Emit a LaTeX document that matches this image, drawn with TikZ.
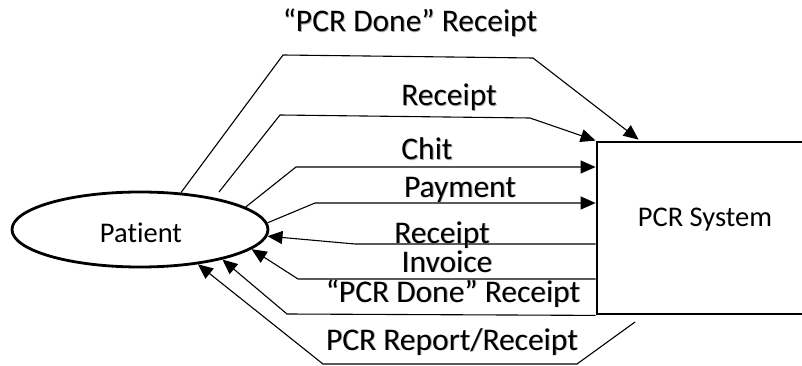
\documentclass[tikz,border=0pt]{standalone}
\usepackage{fontspec}
\setmainfont{Carlito}[Ligatures=NoCommon]
\usetikzlibrary{arrows.meta,shapes.geometric,calc}

% text with a faint drop shadow
\newcommand\shtext[1]{\makebox[0pt][l]{\raisebox{-0.9pt}{\hspace{0.9pt}\textcolor{black!35}{#1}}}#1}

\tikzset{
  flow/.style={line width=1.1pt, -{Triangle[length=15pt,width=13pt]}},
  entity/.style={draw, line width=2.8pt, ellipse, minimum width=256pt, minimum height=75pt, inner sep=0pt},
  procbox/.style={draw, line width=2.8pt, rectangle, minimum width=223pt, minimum height=172pt, inner sep=0pt},
  flowlab/.style={anchor=base, inner sep=0pt, font=\fontsize{31.5}{36}\selectfont},
  boxtext/.style={anchor=base, inner sep=0pt, font=\fontsize{28.5}{34}\selectfont},
}

\begin{document}
\begin{tikzpicture}[x=1pt,y=-1pt]
  \useasboundingbox (0,0) rectangle (802,366);
  \clip (0,0) rectangle (802,366);

  % external entity and process
  \node[entity] (patient) at (140,229.5) {};
  \node[procbox] (sys) at (708.5,228) {};
  \node[boxtext] (patienttxt) at (141,242) {Patient};
  \node[boxtext] (systxt) at (705,226) {PCR System};

  % free ends of two flows
  \coordinate (rfree) at (219,192);
  \coordinate (repfree) at (635,322);

  % flows from Patient to the PCR System
  \draw[flow] (patient.42) -- (283,55) -- (533,58) -- ($(sys.north west)+(43,-1)$);
  \draw[flow] (rfree) -- (280,115) -- (530,118) -- (sys.north west);
  \draw[flow] (patient.12) -- (296,167) -- (sys.west |- 0,167);
  \draw[flow] (patient.3) -- (315,203) -- (sys.west |- 0,203);

  % flows from the PCR System back to Patient
  \draw[flow] (sys.west |- 0,244) -- (355,244) -- (patient.-3);
  \draw[flow] (sys.west |- 0,279) -- (298,279) -- (patient.-10);
  \draw[flow] (sys.south west) -- (287,314) -- (patient.-20);
  \draw[flow] (repfree) -- (577,364) -- (323,364) -- (patient.-31);

  % flow labels
  \node[flowlab] (l1) at (410,32) {\shtext{“PCR Done” Receipt}};
  \node[flowlab] (l2) at (449,106) {\shtext{Receipt}};
  \node[flowlab] (l3) at (427,160) {\shtext{Chit}};
  \node[flowlab] (l4) at (460,197) {\shtext{Payment}};
  \node[flowlab] (l5) at (442,243) {\shtext{Receipt}};
  \node[flowlab] (l6) at (447,272) {\shtext{Invoice}};
  \node[flowlab] (l7) at (453,302) {\shtext{“PCR Done” Receipt}};
  \node[flowlab] (l8) at (452,350) {\shtext{PCR Report/Receipt}};
\end{tikzpicture}
\end{document}
